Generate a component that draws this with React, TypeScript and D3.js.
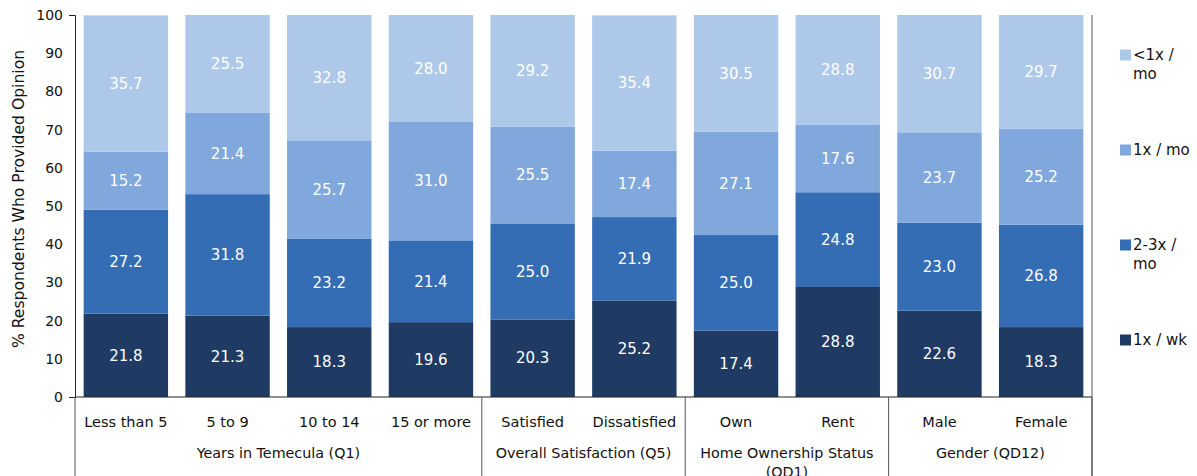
import React, { useEffect, useRef } from "react";
import * as d3 from "d3";

const categories = ["Less than 5", "5 to 9", "10 to 14", "15 or more", "Satisfied", "Dissatisfied", "Own", "Rent", "Male", "Female"];
const groups = [
  { label: ["Years in Temecula (Q1)"], start: 0, end: 3 },
  { label: ["Overall Satisfaction (Q5)"], start: 4, end: 5 },
  { label: ["Home Ownership Status", "(QD1)"], start: 6, end: 7 },
  { label: ["Gender (QD12)"], start: 8, end: 9 },
];
const seriesNames = ["1x / wk", "2-3x / mo", "1x / mo", "<1x / mo"];
const legendLines = [["1x / wk"], ["2-3x /", "mo"], ["1x / mo"], ["<1x /", "mo"]];
const colors = ["#1f3b63", "#346db4", "#80a8dc", "#adc8e8"];
const wk1 = [21.8, 21.3, 18.3, 19.6, 20.3, 25.2, 17.4, 28.8, 22.6, 18.3];
const mo23 = [27.2, 31.8, 23.2, 21.4, 25.0, 21.9, 25.0, 24.8, 23.0, 26.8];
const mo1 = [15.2, 21.4, 25.7, 31.0, 25.5, 17.4, 27.1, 17.6, 23.7, 25.2];
const moLt1 = [35.7, 25.5, 32.8, 28.0, 29.2, 35.4, 30.5, 28.8, 30.7, 29.7];
const yTicks = [0, 10, 20, 30, 40, 50, 60, 70, 80, 90, 100];

const W = 1197, H = 476;
const FONT = "'DejaVu Sans', Verdana, sans-serif";

export default function App() {
  const ref = useRef<SVGSVGElement>(null);
  useEffect(() => {
    const svg = d3.select(ref.current);
    svg.selectAll("*").remove();
    const left = 75, right = 1092, top = 15, bottom = 397;
    const x = d3.scaleBand().domain(categories).range([left, right]).paddingInner(0.17).paddingOuter(0.085);
    const y = d3.scaleLinear().domain([0, 100]).range([bottom, top]);
    const series = [wk1, mo23, mo1, moLt1];
    const rows = categories.map((c, i) => {
      const r: any = { cat: c };
      seriesNames.forEach((s, k) => (r[s] = series[k][i]));
      return r;
    });
    const stacked = d3.stack().keys(seriesNames)(rows);

    const g = svg.append("g");
    stacked.forEach((layer, k) => {
      const lg = g.append("g");
      lg.selectAll("rect").data(layer).enter().append("rect")
        .attr("x", (d: any) => x(d.data.cat)!)
        .attr("width", x.bandwidth())
        .attr("y", (d: any) => y(d[1]))
        .attr("height", (d: any) => y(d[0]) - y(d[1]))
        .attr("fill", colors[k]);
      lg.selectAll("text").data(layer).enter().append("text")
        .attr("x", (d: any) => x(d.data.cat)! + x.bandwidth() / 2)
        .attr("y", (d: any) => (y(d[0]) + y(d[1])) / 2)
        .attr("dy", "0.35em")
        .attr("text-anchor", "middle")
        .attr("fill", "#ffffff")
        .attr("font-family", FONT)
        .attr("font-size", 15)
        .text((d: any) => (d[1] - d[0]).toFixed(1));
    });

    // y axis
    const ax = svg.append("g").attr("transform", `translate(${left},0)`)
      .call(d3.axisLeft(y).tickValues(yTicks).tickSizeInner(0).tickSizeOuter(6).tickPadding(12));
    ax.select(".domain").attr("stroke", "#222");
    ax.selectAll("text").attr("font-family", FONT).attr("font-size", 14).attr("fill", "#111");

    // x baseline
    svg.append("line").attr("x1", left).attr("x2", right).attr("y1", bottom).attr("y2", bottom).attr("stroke", "#222");
    // frame right line
    svg.append("line").attr("x1", right).attr("x2", right).attr("y1", top).attr("y2", H).attr("stroke", "#555");

    // separators
    const step = x.step();
    const bounds = [left, ...groups.map((gr) => x(categories[gr.end])! + x.bandwidth() + (step - x.bandwidth()) / 2)];
    bounds.forEach((bx) => {
      svg.append("line").attr("x1", bx).attr("x2", bx).attr("y1", bottom).attr("y2", H).attr("stroke", "#555");
    });

    // category labels
    svg.append("g").selectAll("text").data(categories).enter().append("text")
      .attr("x", (d) => x(d)! + x.bandwidth() / 2)
      .attr("y", 427)
      .attr("text-anchor", "middle")
      .attr("font-family", FONT).attr("font-size", 14.5).attr("fill", "#111")
      .text((d) => d);

    // group labels
    groups.forEach((gr) => {
      const x0 = x(categories[gr.start])!;
      const x1 = x(categories[gr.end])! + x.bandwidth();
      gr.label.forEach((ln, j) => {
        svg.append("text").attr("x", (x0 + x1) / 2).attr("y", 458 + j * 19)
          .attr("text-anchor", "middle")
          .attr("font-family", FONT).attr("font-size", 14.3).attr("fill", "#111")
          .text(ln);
      });
    });

    // y title
    svg.append("text")
      .attr("transform", `translate(24,199) rotate(-90)`)
      .attr("text-anchor", "middle")
      .attr("font-family", FONT).attr("font-size", 15.6).attr("fill", "#111")
      .text("% Respondents Who Provided Opinion");

    // legend
    const legY = [340, 245, 150, 55];
    seriesNames.forEach((s, k) => {
      svg.append("rect").attr("x", 1120).attr("y", legY[k] - 5.5).attr("width", 11).attr("height", 11).attr("fill", colors[k]);
      legendLines[k].forEach((ln, j) => {
        svg.append("text").attr("x", 1133).attr("y", legY[k] + j * 19).attr("dy", "0.35em")
          .attr("font-family", FONT).attr("font-size", 15).attr("fill", "#111")
          .text(ln);
      });
    });
  }, []);
  return (
    <svg ref={ref} width={W} height={H} style={{ position: "absolute", left: 0, top: 0, background: "#fff" }} />
  );
}
